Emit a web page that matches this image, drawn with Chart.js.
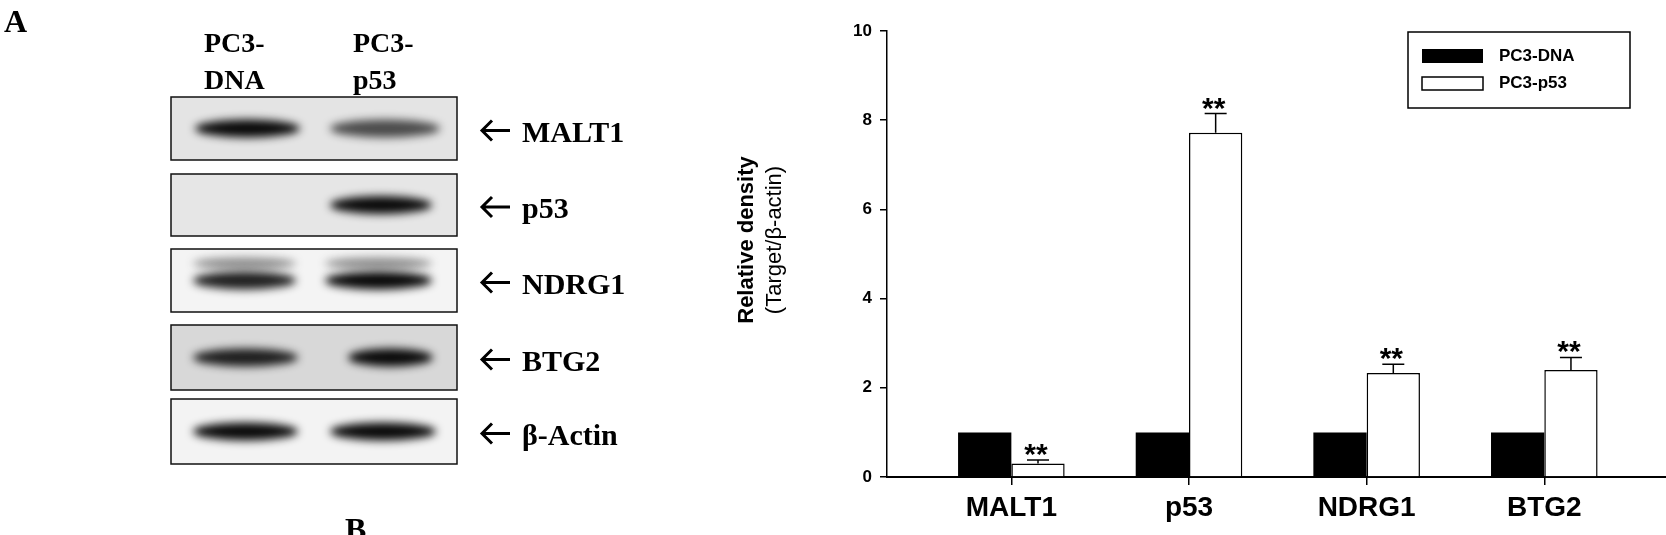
<!DOCTYPE html>
<html><head><meta charset="utf-8">
<script src="https://cdn.jsdelivr.net/npm/chart.js@4"></script>
<style>
body{margin:0;background:#fff;width:1666px;height:535px;overflow:hidden;position:relative;font-family:"Liberation Serif",serif}
#blot{position:absolute;left:0;top:0}
#wrap{position:absolute;left:700px;top:0;width:966px;height:535px}
</style></head><body>
<canvas id="blot" width="700" height="535"></canvas>
<div id="wrap"><canvas id="c"></canvas></div>
<script>
const categories = ["MALT1","p53","NDRG1","BTG2"];
const seriesNames = ["PC3-DNA","PC3-p53"];
const dnaValues = [1,1,1,1];
const p53Values = [0.30,7.72,2.33,2.40];
const p53ErrTop = [0.38,8.15,2.53,2.68];
const significance = ["**","**","**","**"];
const yTicks = [0,2,4,6,8,10];
const blotRows = ["MALT1","p53","NDRG1","BTG2","β-Actin"];

// ---- western blot panel (illustration) ----
(function(){
  const g=document.getElementById('blot').getContext('2d');
  g.fillStyle='#000';g.font='bold 32px "Liberation Serif"';g.fillText('A',4,32);
  g.font='bold 28px "Liberation Serif"';
  g.fillText('PC3-',204,52);g.fillText('DNA',204,89);
  g.fillText('PC3-',353,52);g.fillText('p53',353,89);
  g.font='bold 32px "Liberation Serif"';g.fillText('B',345,540);
  const boxes=[[97,160],[174,236],[249,312],[325,390],[399,464]];
  const bg=['#e4e4e4','#e6e6e6','#f4f4f4','#d8d8d8','#f3f3f3'];
  const bands=[[[195,300,1],[330,440,0.7]],[[330,432,1]],[[193,296,0.9],[325,432,1]],[[193,298,0.9],[348,433,1]],[[193,298,1],[330,436,1]]];
  boxes.forEach((b,i)=>{
    g.fillStyle=bg[i];g.fillRect(171,b[0],286,b[1]-b[0]);
    const cy=(b[0]+b[1])/2;
    g.save();g.filter='blur(4px)';
    bands[i].forEach(([x0,x1,a])=>{
      g.fillStyle='rgba(10,10,10,'+a+')';
      g.beginPath();g.ellipse((x0+x1)/2,cy,(x1-x0)/2,9,0,0,Math.PI*2);g.fill();
      if(i===2){g.fillStyle='rgba(40,40,40,0.5)';g.beginPath();g.ellipse((x0+x1)/2,cy-17,(x1-x0)/2,6,0,0,Math.PI*2);g.fill();}
    });
    g.restore();
    g.strokeStyle='#111';g.lineWidth=1.5;g.strokeRect(171,b[0],286,b[1]-b[0]);
    // arrow
    g.strokeStyle='#000';g.lineWidth=3;
    g.beginPath();g.moveTo(482,cy+2);g.lineTo(510,cy+2);
    g.moveTo(492,cy-8);g.lineTo(482,cy+2);g.lineTo(492,cy+12);g.stroke();
    g.fillStyle='#000';g.font='bold 30px "Liberation Serif"';
    g.fillText(blotRows[i],522,cy+13);
  });
})();

// ---- chart ----
const extras = {
  id:'extras',
  afterDatasetsDraw(chart){
    const {ctx,scales:{x,y}}=chart;
    const meta=chart.getDatasetMeta(1);
    ctx.save();ctx.strokeStyle='#000';ctx.lineWidth=1.5;ctx.fillStyle='#000';
    ctx.font='bold 30px Arial';ctx.textAlign='center';ctx.textBaseline='alphabetic';
    meta.data.forEach((bar,i)=>{
      const yt=y.getPixelForValue(p53ErrTop[i]), yb=y.getPixelForValue(p53Values[i]);
      ctx.beginPath();ctx.moveTo(bar.x,yb);ctx.lineTo(bar.x,yt);
      ctx.moveTo(bar.x-11,yt);ctx.lineTo(bar.x+11,yt);ctx.stroke();
      ctx.fillText(significance[i],bar.x-2,yt+4);
    });
    // legend
    const lx=1408-700, ly=32;
    ctx.lineWidth=1.5;ctx.strokeRect(lx,ly,222,76);
    ctx.fillStyle='#000';ctx.fillRect(lx+14,ly+17,61,14);
    ctx.strokeRect(lx+14,ly+45,61,13);
    ctx.font='bold 17px Arial';ctx.textAlign='left';ctx.textBaseline='middle';
    ctx.fillText(seriesNames[0],lx+91,ly+24);
    ctx.fillText(seriesNames[1],lx+91,ly+51);
    // y title
    ctx.save();ctx.translate(47,240);ctx.rotate(-Math.PI/2);ctx.textAlign='center';
    ctx.font='bold 22px Arial';ctx.fillText('Relative density',0,0);
    ctx.font='22px Arial';ctx.fillText('(Target/β-actin)',0,28);
    ctx.restore();
    ctx.restore();
  }
};
new Chart(document.getElementById('c'),{
  type:'bar',
  data:{datasets:[
    {label:seriesNames[0],data:categories.map((c,i)=>({x:i,y:dnaValues[i]})),backgroundColor:'#000',borderColor:'#000',borderWidth:0},
    {label:seriesNames[1],data:categories.map((c,i)=>({x:i,y:p53Values[i]})),backgroundColor:'#fff',borderColor:'#000',borderWidth:1.5,borderSkipped:'bottom'}
  ]},
  options:{
    responsive:true,maintainAspectRatio:false,animation:false,
    layout:{padding:{top:31,right:0,left:0,bottom:0}},
    categoryPercentage:0.6,barPercentage:1,
    plugins:{legend:{display:false},tooltip:{enabled:false}},
    scales:{
      x:{type:'linear',min:-0.7,max:3.685,offset:false,
        afterBuildTicks(s){s.ticks=categories.map((c,i)=>({value:i}));},
        afterFit(s){s.height=58;},
        grid:{display:true,offset:false,drawOnChartArea:false,drawTicks:true,tickLength:8,color:'#000',lineWidth:1.5},
        border:{color:'#000',width:2},
        ticks:{callback:v=>categories[v],color:'#000',font:{family:'Arial',size:28,weight:'bold'},padding:6,maxRotation:0}},
      y:{min:0,max:10,
        afterBuildTicks(s){s.ticks=yTicks.map(v=>({value:v}));},
        afterFit(s){s.width=187;},
        grid:{display:true,drawOnChartArea:false,tickLength:7,color:'#000',lineWidth:1.5},
        border:{color:'#000',width:1.5},
        ticks:{color:'#000',font:{family:'Arial',size:17,weight:'bold'},padding:8}}
    }
  },
  plugins:[extras]
});
</script></body></html>
